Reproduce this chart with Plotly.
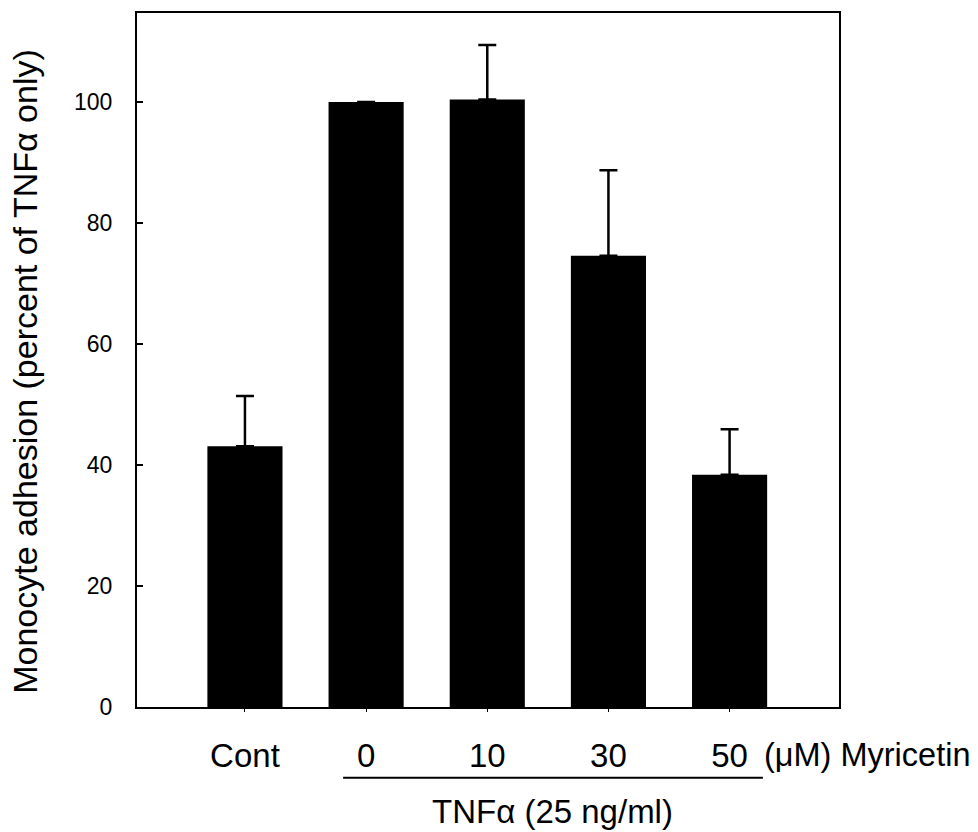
import plotly.graph_objects as go

categories = ["Cont", "0", "10", "30", "50"]
adhesion = [43.1, 100.0, 100.4, 74.6, 38.4]
sem_upper = [8.3, 0.0, 9.0, 14.1, 7.5]
y_ticks = [0, 20, 40, 60, 80, 100]

FONT = "Liberation Sans, Arial, Helvetica, sans-serif"

fig = go.Figure()
fig.add_trace(go.Bar(
    x=categories,
    y=adhesion,
    width=0.62,
    marker=dict(color="black", line=dict(width=0)),
    error_y=dict(type="data", array=sem_upper, arrayminus=[0] * len(sem_upper),
                 symmetric=False, color="black", thickness=2.5, width=9),
    showlegend=False,
))

fig.update_layout(
    width=978, height=832,
    margin=dict(l=137, r=139, t=11, b=125),
    paper_bgcolor="white", plot_bgcolor="white",
    font=dict(family=FONT, color="black"),
    xaxis=dict(
        type="category", range=[-0.891, 4.903],
        showline=True, linecolor="black", linewidth=2, mirror=True,
        ticks="outside", ticklen=3, tickwidth=1, tickcolor="black",
        tickfont=dict(size=33, family=FONT, color="black"),
        ticklabelstandoff=15,
        showgrid=False, zeroline=False,
    ),
    yaxis=dict(
        range=[0, 114.7],
        tickvals=y_ticks,
        showline=True, linecolor="black", linewidth=2, mirror=True,
        ticks="inside", ticklen=6, tickwidth=2, tickcolor="black",
        tickfont=dict(size=23, family=FONT, color="black"),
        ticklabelstandoff=18,
        showgrid=False, zeroline=False,
    ),
)

# y-axis title
fig.add_annotation(
    text="Monocyte adhesion (percent of TNF\u03b1 only)",
    xref="paper", yref="paper", x=-0.16, y=0.484,
    textangle=-90, showarrow=False,
    font=dict(size=34, family=FONT, color="black"),
    xanchor="center", yanchor="middle",
)

# unit label after the last category
fig.add_annotation(
    text="(\u03bcM) Myricetin",
    xref="x", yref="paper", x=4.27, y=-0.069,
    showarrow=False, xanchor="left", yanchor="middle",
    font=dict(size=32.5, family=FONT, color="black"),
)

# bracket line under TNF-treated groups
fig.add_shape(type="line", xref="x", yref="paper",
              x0=0.81, x1=4.275, y0=-0.102, y1=-0.102,
              line=dict(color="black", width=2))

fig.add_annotation(
    text="TNF\u03b1 (25 ng/ml)",
    xref="x", yref="paper", x=2.54, y=-0.151,
    showarrow=False, xanchor="center", yanchor="middle",
    font=dict(size=33, family=FONT, color="black"),
)

fig.write_html("out.html", config={"displayModeBar": False})

# remove the default page margin so the figure fills the window exactly
with open("out.html", "r", encoding="utf-8") as fh:
    html = fh.read()
html = html.replace("<head>", "<head><style>html,body{margin:0;padding:0;overflow:hidden;}</style>", 1)
with open("out.html", "w", encoding="utf-8") as fh:
    fh.write(html)
